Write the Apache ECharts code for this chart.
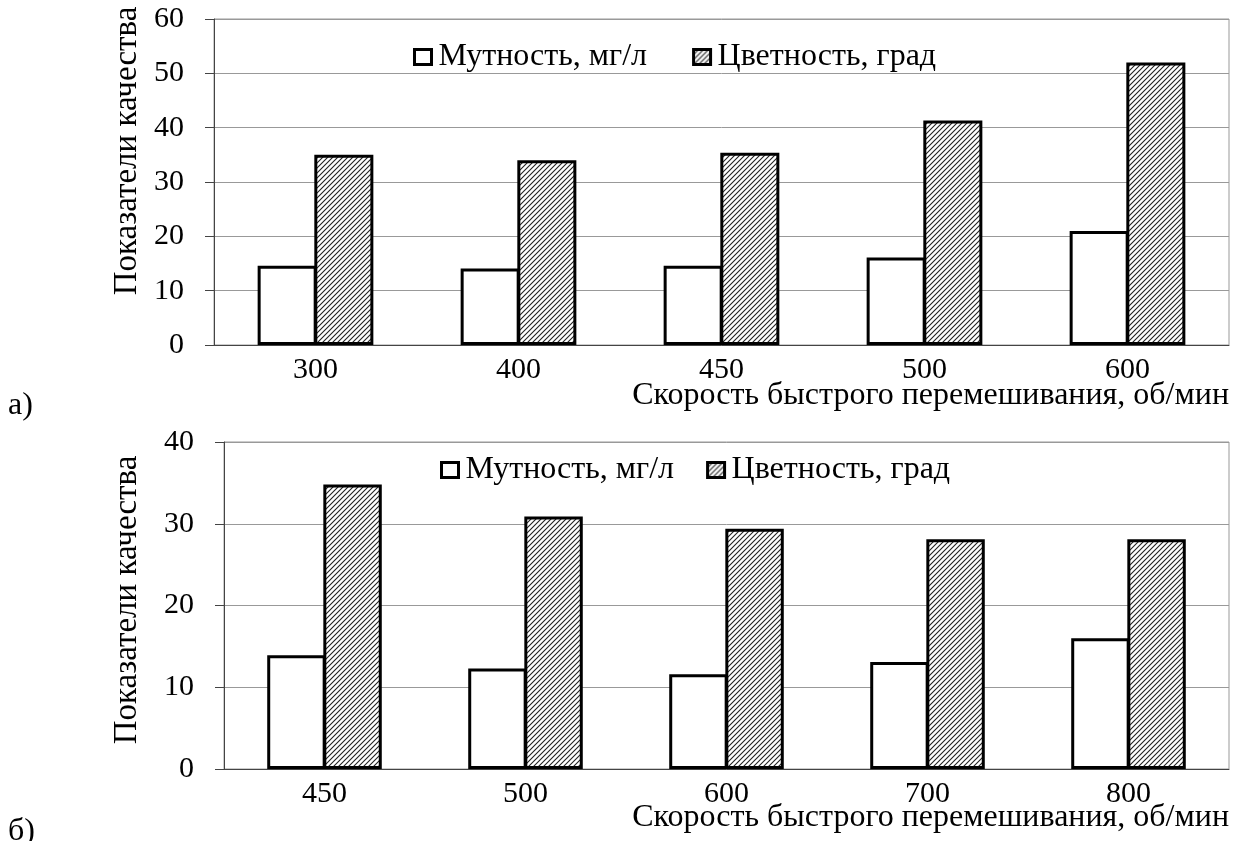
<!DOCTYPE html>
<html>
<head>
<meta charset="utf-8">
<script src="https://cdn.jsdelivr.net/npm/echarts@6/dist/echarts.min.js"></script>
<style>
html,body{margin:0;padding:0;background:#fff;}
#chart{width:1239px;height:841px;}
</style>
</head>
<body>
<div id="chart"></div>
<script>
// ---- data ----
var categoriesA = ['300', '400', '450', '500', '600'];
var turbidityA = [14.6, 14.1, 14.6, 16.1, 21.0];
var colorA = [35.0, 34.0, 35.4, 41.3, 52.0];

var categoriesB = ['450', '500', '600', '700', '800'];
var turbidityB = [13.9, 12.3, 11.6, 13.1, 16.0];
var colorB = [34.8, 30.9, 29.4, 28.1, 28.1];

var seriesNames = ['Мутность, мг/л', 'Цветность, град'];
var xAxisName = 'Скорость быстрого перемешивания, об/мин';
var yAxisName = 'Показатели качества';
var panelLabels = ['а)', 'б)'];

// ---- hatch pattern ----
function makeHatch() {
  var c = document.createElement('canvas');
  var s = 5;
  c.width = s; c.height = s;
  var ctx = c.getContext('2d');
  ctx.fillStyle = '#fff';
  ctx.fillRect(0, 0, s, s);
  ctx.strokeStyle = '#222';
  ctx.lineWidth = 1.1;
  ctx.beginPath();
  ctx.moveTo(-1, s + 1); ctx.lineTo(s + 1, -1);
  ctx.moveTo(-1, 1); ctx.lineTo(1, -1);
  ctx.moveTo(s - 1, s + 1); ctx.lineTo(s + 1, s - 1);
  ctx.stroke();
  return c;
}
var hatch = makeHatch();

var FONT = '"Liberation Serif", "Times New Roman", serif';
var FS_TICK = 30;
var FS_TEXT = 32;
var FS_YNAME = 33;

var chart = echarts.init(document.getElementById('chart'), null, {renderer: 'canvas'});

function xAxisCfg(idx, cats) {
  return {
    type: 'category', gridIndex: idx, data: cats,
    axisLine: {lineStyle: {color: '#444', width: 1}},
    axisTick: {alignWithLabel: true, length: 8, lineStyle: {color: '#444'}},
    axisLabel: {color: '#000', fontFamily: FONT, fontSize: FS_TICK, margin: 10}
  };
}
function yAxisCfg(idx, max) {
  return {
    type: 'value', gridIndex: idx, min: 0, max: max, interval: 10,
    axisLine: {show: true, lineStyle: {color: '#444', width: 1}},
    axisTick: {show: true, length: 9, lineStyle: {color: '#444'}},
    axisLabel: {color: '#000', fontFamily: FONT, fontSize: FS_TICK, margin: 30},
    splitLine: {lineStyle: {color: '#999', width: 1}}
  };
}
var barStyleWhite = {color: '#fff', borderColor: '#000', borderWidth: 3};
var barStyleHatch = {color: {image: hatch, repeat: 'repeat'}, borderColor: '#000', borderWidth: 3};
var legendText = {color: '#000', fontFamily: FONT, fontSize: FS_TEXT, padding: [0, 0, 0, 2]};
var legendItem = {borderColor: '#000', borderWidth: 3};

var option = {
  animation: false,
  backgroundColor: '#fff',
  textStyle: {fontFamily: FONT},
  grid: [
    {left: 214, right: 10, top: 19, bottom: 496, outerBoundsMode: 'none', containLabel: false, show: true, borderColor: '#999', borderWidth: 1, backgroundColor: 'transparent'},
    {left: 224, right: 10, top: 442, bottom: 72, outerBoundsMode: 'none', containLabel: false, show: true, borderColor: '#999', borderWidth: 1, backgroundColor: 'transparent'}
  ],
  legend: [
    {top: 41, left: 413, padding: 0, itemWidth: 17, itemHeight: 15, itemGap: 45, icon: 'rect',
     itemStyle: legendItem, textStyle: legendText, data: seriesNames},
    {top: 454, left: 440, padding: 0, itemWidth: 17, itemHeight: 15, itemGap: 32, icon: 'rect',
     itemStyle: legendItem, textStyle: legendText, data: seriesNames}
  ],
  xAxis: [xAxisCfg(0, categoriesA), xAxisCfg(1, categoriesB)],
  yAxis: [yAxisCfg(0, 60), yAxisCfg(1, 40)],
  series: [
    {name: seriesNames[0], type: 'bar', xAxisIndex: 0, yAxisIndex: 0, data: turbidityA, itemStyle: barStyleWhite, barGap: '-4%', barCategoryGap: '43%'},
    {name: seriesNames[1], type: 'bar', xAxisIndex: 0, yAxisIndex: 0, data: colorA, itemStyle: barStyleHatch, barGap: '-4%', barCategoryGap: '43%'},
    {name: seriesNames[0], type: 'bar', xAxisIndex: 1, yAxisIndex: 1, data: turbidityB, itemStyle: barStyleWhite, barGap: '-4%', barCategoryGap: '43%'},
    {name: seriesNames[1], type: 'bar', xAxisIndex: 1, yAxisIndex: 1, data: colorB, itemStyle: barStyleHatch, barGap: '-4%', barCategoryGap: '43%'}
  ],
  graphic: [
    {type: 'text', x: 127, y: 151, rotation: Math.PI / 2,
     style: {text: yAxisName, fill: '#000', font: FS_YNAME + 'px ' + FONT, align: 'center', verticalAlign: 'middle'}},
    {type: 'text', x: 127, y: 600, rotation: Math.PI / 2,
     style: {text: yAxisName, fill: '#000', font: FS_YNAME + 'px ' + FONT, align: 'center', verticalAlign: 'middle'}},
    {type: 'text', x: 1229, y: 396,
     style: {text: xAxisName, fill: '#000', font: FS_TEXT + 'px ' + FONT, align: 'right', verticalAlign: 'middle'}},
    {type: 'text', x: 1229, y: 818,
     style: {text: xAxisName, fill: '#000', font: FS_TEXT + 'px ' + FONT, align: 'right', verticalAlign: 'middle'}},
    {type: 'text', x: 8, y: 406,
     style: {text: panelLabels[0], fill: '#000', font: FS_TEXT + 'px ' + FONT, align: 'left', verticalAlign: 'middle'}},
    {type: 'text', x: 8, y: 832,
     style: {text: panelLabels[1], fill: '#000', font: FS_TEXT + 'px ' + FONT, align: 'left', verticalAlign: 'middle'}}
  ]
};
chart.setOption(option);
</script>
</body>
</html>
